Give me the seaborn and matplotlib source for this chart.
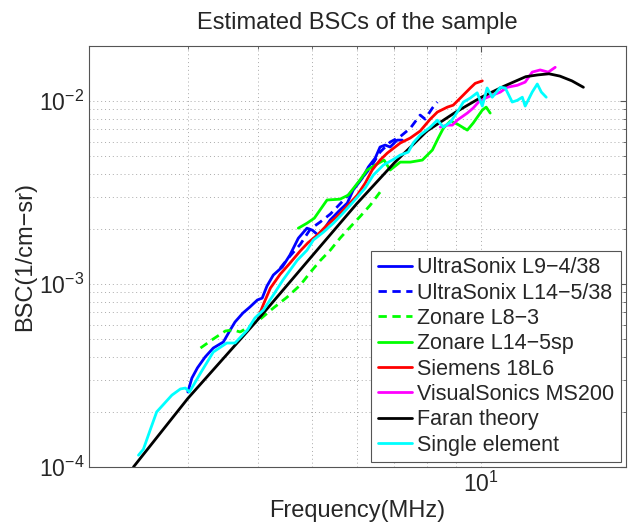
import matplotlib
matplotlib.use("Agg")
import matplotlib.pyplot as plt
import matplotlib.ticker as mticker
import seaborn as sns

# 샘플의 BSC 추정값 (주파수 MHz, BSC 1/cm-sr) - 그림에서 읽은 값

l9_freq = [3.00, 3.05, 3.12, 3.22, 3.33, 3.47, 3.57, 3.64, 3.76, 3.87, 3.99, 4.07, 4.15, 4.26, 4.42, 4.56, 4.72,
           4.89, 5.00, 5.12, 5.23, 5.38, 5.60, 5.77, 5.91, 6.14, 6.29, 6.47, 6.60, 6.74, 6.88, 7.08, 7.23]
l9_bsc = [2.57e-4, 3.06e-4, 3.48e-4, 3.99e-4, 4.47e-4, 4.82e-4, 5.61e-4, 6.20e-4, 6.94e-4, 7.49e-4, 8.18e-4,
          8.38e-4, 9.75e-4, 1.12e-3, 1.24e-3, 1.44e-3, 1.78e-3, 2.02e-3, 1.97e-3, 1.85e-3, 1.97e-3, 2.24e-3,
          2.54e-3, 2.77e-3, 3.26e-3, 3.80e-3, 4.36e-3, 4.88e-3, 5.61e-3, 5.75e-3, 5.61e-3, 6.12e-3, 6.12e-3]

l14_freq = [4.38, 4.56, 4.76, 4.96, 5.16, 5.38, 5.60, 5.84, 6.09, 6.34, 6.60, 6.88, 7.17, 7.47, 7.78, 7.94, 8.18, 8.35]
l14_bsc = [1.22e-3, 1.42e-3, 1.65e-3, 2.00e-3, 2.18e-3, 2.41e-3, 2.74e-3, 3.14e-3, 3.70e-3, 4.31e-3, 5.26e-3,
           5.97e-3, 6.40e-3, 7.10e-3, 8.39e-3, 7.97e-3, 9.16e-3, 9.88e-3]

l8_freq = [3.16, 3.33, 3.50, 3.61, 3.72, 3.87, 4.04, 4.26, 4.51, 4.76, 4.96, 5.16, 5.38, 5.60, 5.84, 6.09, 6.34, 6.60]
l8_bsc = [4.47e-4, 5.01e-4, 5.54e-4, 5.61e-4, 5.47e-4, 5.89e-4, 6.44e-4, 7.39e-4, 8.49e-4, 9.88e-4, 1.16e-3,
          1.34e-3, 1.53e-3, 1.78e-3, 2.05e-3, 2.35e-3, 2.70e-3, 3.18e-3]

l14sp_freq = [4.72, 4.89, 5.04, 5.16, 5.31, 5.60, 5.79, 6.04, 6.26, 6.52, 6.71, 6.88, 7.17, 7.47, 7.85, 8.18, 8.38,
              8.56, 8.81, 9.06, 9.44, 9.67, 10.04, 10.20, 10.37]
l14sp_bsc = [2.02e-3, 2.15e-3, 2.29e-3, 2.54e-3, 2.88e-3, 2.91e-3, 3.06e-3, 3.61e-3, 4.20e-3, 4.53e-3, 4.76e-3,
             4.20e-3, 4.64e-3, 4.64e-3, 4.76e-3, 5.40e-3, 6.28e-3, 7.12e-3, 7.78e-3, 7.49e-3, 6.94e-3, 7.58e-3,
             8.93e-3, 9.27e-3, 8.60e-3]

siemens_freq = [4.00, 4.10, 4.21, 4.38, 4.56, 4.76, 4.91, 5.10, 5.31, 5.54, 5.77, 6.01, 6.21, 6.39, 6.60, 6.80, 7.17,
                7.47, 7.78, 8.11, 8.35, 8.70, 8.91, 9.29, 9.56, 9.75, 10.04]
siemens_bsc = [6.52e-4, 7.88e-4, 9.51e-4, 1.13e-3, 1.30e-3, 1.52e-3, 1.68e-3, 1.85e-3, 2.10e-3, 2.35e-3, 2.67e-3,
               3.06e-3, 3.56e-3, 4.20e-3, 4.76e-3, 5.20e-3, 5.90e-3, 6.28e-3, 6.86e-3, 7.97e-3, 8.71e-3, 9.27e-3,
               9.50e-3, 1.08e-2, 1.18e-2, 1.25e-2, 1.29e-2]

vs_freq = [8.45, 8.70, 8.88, 9.06, 9.44, 9.67, 9.95, 10.37, 10.81, 11.12, 11.59, 11.97, 12.32, 12.73, 13.16, 13.54]
vs_bsc = [7.21e-3, 7.39e-3, 7.39e-3, 7.87e-3, 8.60e-3, 9.16e-3, 1.01e-2, 1.065e-2, 1.12e-2, 1.19e-2, 1.22e-2,
          1.27e-2, 1.44e-2, 1.48e-2, 1.44e-2, 1.53e-2]

faran_freq = [2.40, 3.0, 4.0, 5.0, 6.0, 7.0, 8.0, 9.0, 10.0, 11.0, 12.0, 12.6, 13.2, 13.8, 14.5, 15.2]
faran_bsc = [1.0e-4, 2.37e-4, 6.4e-4, 1.43e-3, 2.75e-3, 4.6e-3, 6.86e-3, 8.7e-3, 1.05e-2, 1.21e-2, 1.36e-2,
             1.39e-2, 1.41e-2, 1.37e-2, 1.29e-2, 1.19e-2]

single_freq = [2.45, 2.50, 2.57, 2.64, 2.73, 2.81, 2.91, 2.97, 3.02, 3.16, 3.33, 3.52, 3.64, 3.83, 3.95, 4.09, 4.26,
               4.43, 4.70, 4.89, 5.02, 5.23, 5.45, 5.67, 5.91, 6.21, 6.42, 6.69, 6.94, 7.17, 7.41, 7.56, 7.78, 8.11,
               8.35, 8.56, 8.81, 9.06, 9.29, 9.56, 9.83, 10.04, 10.24, 10.46, 10.81, 11.03, 11.35, 11.59, 11.83,
               11.97, 12.32, 12.58, 12.79, 13.05]
single_bsc = [1.16e-4, 1.25e-4, 1.59e-4, 2.00e-4, 2.24e-4, 2.47e-4, 2.67e-4, 2.70e-4, 2.57e-4, 3.26e-4, 4.25e-4,
              4.76e-4, 4.76e-4, 5.61e-4, 6.52e-4, 7.21e-4, 8.71e-4, 1.05e-3, 1.35e-3, 1.53e-3, 1.74e-3, 1.92e-3,
              2.15e-3, 2.44e-3, 2.81e-3, 3.35e-3, 3.94e-3, 4.47e-3, 4.76e-3, 5.07e-3, 5.26e-3, 5.90e-3, 6.52e-3,
              7.21e-3, 7.87e-3, 7.21e-3, 7.68e-3, 8.71e-3, 9.88e-3, 1.04e-2, 1.11e-2, 9.39e-3, 1.18e-2, 1.05e-2,
              1.19e-2, 1.18e-2, 9.88e-3, 1.01e-2, 1.05e-2, 9.39e-3, 1.12e-2, 1.24e-2, 1.12e-2, 1.05e-2]

series = [
    ("UltraSonix L9\u22124/38", l9_freq, l9_bsc, "#0000FF", "-"),
    ("UltraSonix L14\u22125/38", l14_freq, l14_bsc, "#0000FF", (0, (3, 2))),
    ("Zonare L8\u22123", l8_freq, l8_bsc, "#00FF00", (0, (3, 2))),
    ("Zonare L14\u22125sp", l14sp_freq, l14sp_bsc, "#00FF00", "-"),
    ("Siemens 18L6", siemens_freq, siemens_bsc, "#FF0000", "-"),
    ("VisualSonics MS200", vs_freq, vs_bsc, "#FF00FF", "-"),
    ("Faran theory", faran_freq, faran_bsc, "#000000", "-"),
    ("Single element", single_freq, single_bsc, "#00FFFF", "-"),
]

sns.set_style("white")
plt.rcParams['font.family'] = ['Liberation Sans', 'DejaVu Sans']
plt.rcParams['mathtext.fontset'] = 'custom'
plt.rcParams['mathtext.rm'] = 'Liberation Sans'
plt.rcParams['mathtext.it'] = 'Liberation Sans:italic'
plt.rcParams['mathtext.bf'] = 'Liberation Sans:bold'

fig, ax = plt.subplots(figsize=(6.33, 5.26), dpi=100)
fig.subplots_adjust(left=0.1406, right=0.9889, bottom=0.1122, top=0.9125)

for name, fx, fy, col, ls in series:
    sns.lineplot(x=fx, y=fy, ax=ax, color=col, linestyle=ls, linewidth=2.0,
                 label=name, estimator=None, sort=False)

ax.set_xscale('log')
ax.set_yscale('log')
ax.set_xlim(2, 18.1)
ax.set_ylim(1e-4, 2e-2)

ax.xaxis.set_minor_formatter(mticker.NullFormatter())
ax.yaxis.set_minor_formatter(mticker.NullFormatter())
ax.grid(True, which='both', linestyle=(0, (1, 3)), color='#aaaaaa', linewidth=0.7)

for sp in ax.spines.values():
    sp.set_color('#555555')
    sp.set_linewidth(0.8)
ax.tick_params(which='both', direction='in', top=True, right=True, color='#555555', labelsize=16.5)
ax.tick_params(which='major', length=4.5)
ax.tick_params(which='minor', length=2.5)

ax.set_title("Estimated BSCs of the sample", fontsize=17, pad=12)
ax.set_xlabel("Frequency(MHz)", fontsize=17, labelpad=2)
ax.set_ylabel("BSC(1/cm\u2212sr)", fontsize=17, labelpad=2)

leg = ax.legend(loc='lower right', bbox_to_anchor=(0.9907, 0.0119), borderaxespad=0, fontsize=15.5,
                handlelength=1.6, handletextpad=0.25, labelspacing=0.2, borderpad=0.3,
                fancybox=False, framealpha=1, edgecolor='#555555')
leg.get_frame().set_linewidth(0.8)

plt.savefig("out.png", dpi=100)
